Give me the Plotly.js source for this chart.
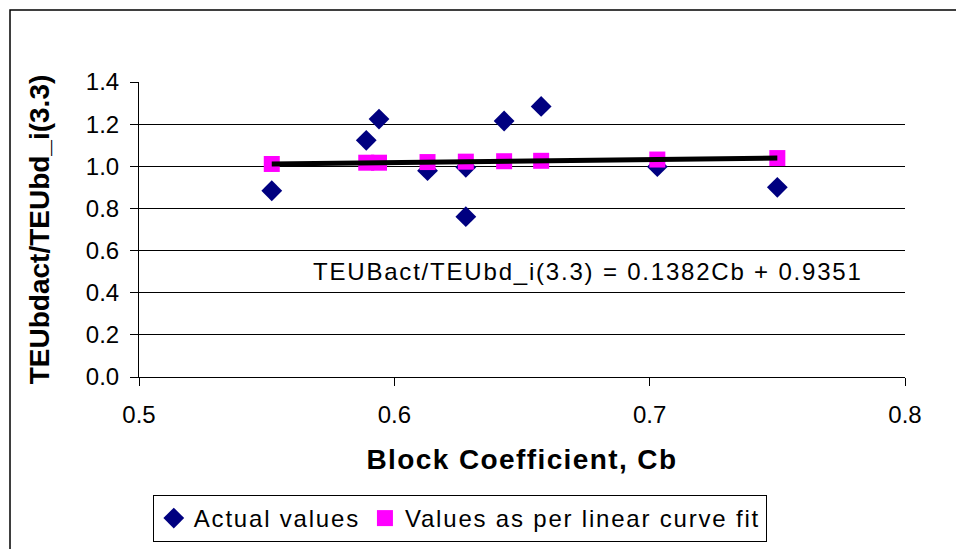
<!DOCTYPE html>
<html>
<head>
<meta charset="utf-8">
<script src="https://cdn.plot.ly/plotly-3.0.1.min.js"></script>
<style>
html,body{margin:0;padding:0;background:#fff;}
#chart{width:956px;height:549px;}
.annotation-text{letter-spacing:1.8px;}
.legendtext{letter-spacing:1.8px;}
.xtitle{letter-spacing:1.4px;}
</style>
</head>
<body>
<div id="chart"></div>
<script>
// Actual values
const actualCb = [0.552, 0.589, 0.594, 0.613, 0.628, 0.628, 0.643, 0.6575, 0.703, 0.750];
const actualRatio = [0.884, 1.123, 1.224, 0.979, 0.995, 0.761, 1.215, 1.284, 0.998, 0.900];
// Values as per linear curve fit
const fitCb = [0.552, 0.589, 0.594, 0.613, 0.628, 0.643, 0.6575, 0.703, 0.750];
const fitRatio = [1.011, 1.017, 1.017, 1.020, 1.022, 1.024, 1.026, 1.032, 1.039];
const equationText = "TEUBact/TEUbd_i(3.3) = 0.1382Cb + 0.9351";
const xTicks = [0.5, 0.6, 0.7, 0.8];
const xTickText = ["0.5", "0.6", "0.7", "0.8"];
const yTicks = [0.0, 0.2, 0.4, 0.6, 0.8, 1.0, 1.2, 1.4];
const yTickText = ["0.0", "0.2", "0.4", "0.6", "0.8", "1.0", "1.2", "1.4"];

const FONT = "Liberation Sans, Arial, sans-serif";

const traces = [
  {
    type: "scatter", mode: "markers", name: "Actual values",
    x: actualCb, y: actualRatio,
    marker: {symbol: "diamond", size: 16, color: "#000080", line: {width: 0}},
    cliponaxis: false
  },
  {
    type: "scatter", mode: "markers", name: "Values as per linear curve fit",
    x: fitCb, y: fitRatio,
    marker: {symbol: "square", size: 16, color: "#FF00FF", line: {width: 0}},
    cliponaxis: false
  },
  {
    type: "scatter", mode: "lines", name: "Linear fit", showlegend: false,
    x: [fitCb[0], fitCb[fitCb.length - 1]],
    y: [fitRatio[0], fitRatio[fitRatio.length - 1]],
    line: {color: "#000000", width: 5}
  }
];

const layout = {
  width: 956, height: 549,
  margin: {l: 139, r: 51, t: 82, b: 172, autoexpand: false},
  paper_bgcolor: "#ffffff", plot_bgcolor: "#ffffff",
  font: {family: FONT, color: "#000000", size: 24},
  showlegend: true,
  xaxis: {
    range: [0.5, 0.8], tickvals: xTicks, ticktext: xTickText,
    showgrid: false, zeroline: false,
    showline: true, linecolor: "#000000", linewidth: 1,
    ticks: "outside", ticklen: 8, tickcolor: "#000000", tickwidth: 1,
    tickfont: {family: FONT, size: 24, color: "#000"},
    ticklabelstandoff: 8,
    title: {text: "Block Coefficient, Cb", font: {family: FONT, size: 28, color: "#000", weight: "bold"}, standoff: 22}
  },
  yaxis: {
    range: [0, 1.4], tickvals: yTicks, ticktext: yTickText,
    showgrid: true, gridcolor: "#000000", gridwidth: 1,
    zeroline: false,
    showline: true, linecolor: "#000000", linewidth: 1,
    ticks: "outside", ticklen: 8, tickcolor: "#000000", tickwidth: 1,
    tickfont: {family: FONT, size: 24, color: "#000"},
    ticklabelstandoff: 6,
    title: {text: "TEUbdact/TEUbd_i(3.3)", font: {family: FONT, size: 28, color: "#000", weight: "bold"}, standoff: 28}
  },
  legend: {
    orientation: "h",
    x: 0.018, y: -0.40, xanchor: "left", yanchor: "top",
    bordercolor: "#000000", borderwidth: 1, bgcolor: "#ffffff",
    font: {family: FONT, size: 24, color: "#000"},
    itemwidth: 30, tracegroupgap: 0
  },
  annotations: [{
    xref: "x", yref: "y", x: 0.5674, y: 0.50, xanchor: "left",
    text: equationText, showarrow: false,
    font: {family: FONT, size: 24, color: "#000"}
  }],
  shapes: [{
    type: "rect", xref: "paper", yref: "paper",
    x0: -0.1684, x1: 1.5, y0: -1.0, y1: 1.244,
    line: {color: "#000000", width: 1.5}, fillcolor: "rgba(0,0,0,0)", layer: "below"
  }]
};

Plotly.newPlot("chart", traces, layout, {displayModeBar: false, staticPlot: true});
</script>
</body>
</html>
